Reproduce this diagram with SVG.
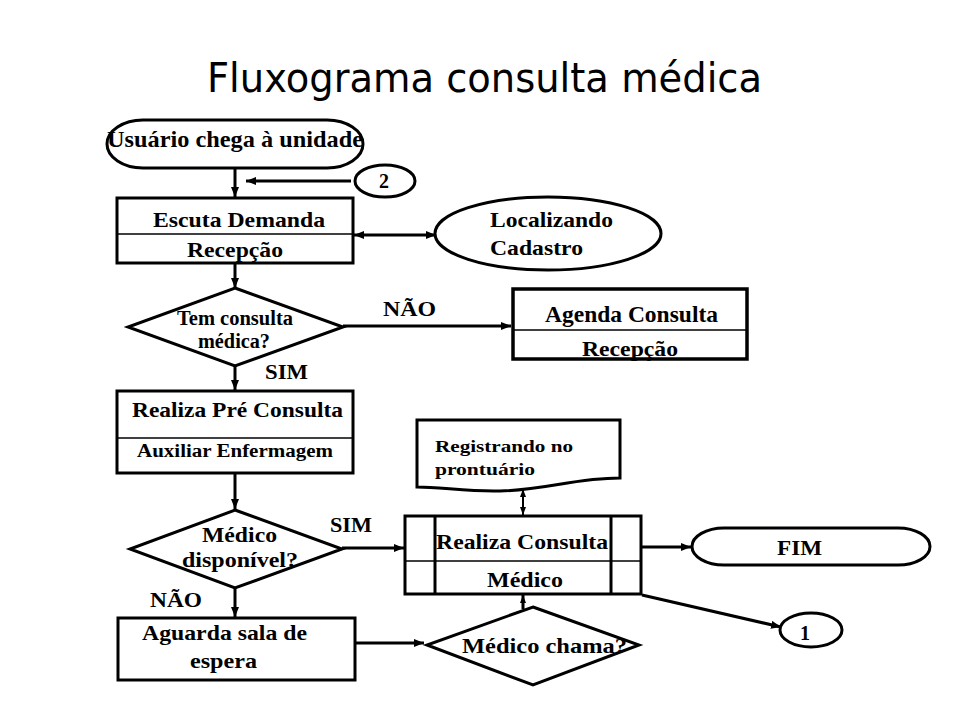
<svg xmlns="http://www.w3.org/2000/svg" width="960" height="720" viewBox="0 0 960 720">
<defs>
<style>
.s{fill:#fff;stroke:#000;stroke-width:3}
.d{stroke:#000;stroke-width:1.5;fill:none}
.c{stroke:#000;stroke-width:3;fill:none}
.c2{stroke:#000;stroke-width:2;fill:none}
.t{font-family:"Liberation Serif","Times New Roman",serif;font-weight:bold;fill:#000}
.ti{font-family:"Comic Sans MS","DejaVu Sans",sans-serif;fill:#000}
</style>
<marker id="ah" viewBox="0 0 10 8" refX="10" refY="4" markerWidth="10" markerHeight="8" markerUnits="userSpaceOnUse" orient="auto-start-reverse">
<path d="M0,0 L10,4 L0,8 Z" fill="#000"/>
</marker>
<marker id="ahs" viewBox="0 0 8 6" refX="8" refY="3" markerWidth="8" markerHeight="6" markerUnits="userSpaceOnUse" orient="auto-start-reverse">
<path d="M0,0 L8,3 L0,6 Z" fill="#000"/>
</marker>
</defs>
<rect width="960" height="720" fill="#fff"/>
<text class="ti" x="207" y="92" font-size="41" textLength="555" lengthAdjust="spacingAndGlyphs">Fluxograma consulta médica</text>

<g id="connectors">
<line class="c" x1="235" y1="168" x2="235" y2="197" marker-end="url(#ah)"/>
<line class="c" x1="351" y1="181" x2="246" y2="181" marker-end="url(#ah)"/>
<line class="c" x1="354" y1="235" x2="436" y2="235" marker-start="url(#ah)" marker-end="url(#ah)"/>
<line class="c" x1="235" y1="263" x2="235" y2="288" marker-end="url(#ah)"/>
<line class="c" x1="343" y1="326" x2="511" y2="326" marker-end="url(#ah)"/>
<line class="c" x1="235" y1="366" x2="235" y2="390" marker-end="url(#ah)"/>
<line class="c" x1="235" y1="473" x2="235" y2="509" marker-end="url(#ah)"/>
<line class="c" x1="342" y1="548" x2="404" y2="548" marker-end="url(#ah)"/>
<line class="c" x1="235" y1="588" x2="235" y2="617" marker-end="url(#ah)"/>
<line class="c" x1="355" y1="643" x2="424" y2="643" marker-end="url(#ah)"/>
<line class="c" x1="523" y1="609" x2="523" y2="595" marker-end="url(#ahs)"/>
<line class="c2" x1="523" y1="489" x2="523" y2="515" marker-start="url(#ahs)" marker-end="url(#ahs)"/>
<line class="c" x1="641" y1="547" x2="691" y2="547" marker-end="url(#ah)"/>
<line class="c" x1="642" y1="595" x2="781" y2="627" marker-end="url(#ah)"/>
</g>

<g id="inicio">
<rect class="s" x="107" y="120" width="256" height="48" rx="36" ry="24"/>
<text class="t" x="107" y="147" font-size="24" textLength="256" lengthAdjust="spacingAndGlyphs">Usuário chega à unidade</text>
</g>

<g id="conector2">
<ellipse class="s" cx="385" cy="181" rx="30" ry="16"/>
<text class="t" x="379" y="188" font-size="20">2</text>
</g>

<g id="escuta">
<rect class="s" x="117" y="198" width="236" height="65"/>
<line class="d" x1="117" y1="234" x2="353" y2="234"/>
<text class="t" x="153" y="227" font-size="22" textLength="172" lengthAdjust="spacingAndGlyphs">Escuta Demanda</text>
<text class="t" x="187" y="257" font-size="22" textLength="96" lengthAdjust="spacingAndGlyphs">Recepção</text>
</g>

<g id="localizando">
<ellipse class="s" cx="548" cy="233.5" rx="113" ry="36.5"/>
<text class="t" x="490" y="227" font-size="22" textLength="123" lengthAdjust="spacingAndGlyphs">Localizando</text>
<text class="t" x="490" y="255" font-size="22" textLength="93" lengthAdjust="spacingAndGlyphs">Cadastro</text>
</g>

<g id="tem-consulta">
<polygon class="s" points="235,288 343,327 235,366 128,327"/>
<text class="t" x="177" y="325" font-size="20" textLength="116" lengthAdjust="spacingAndGlyphs">Tem consulta</text>
<text class="t" x="198" y="348" font-size="20" textLength="72" lengthAdjust="spacingAndGlyphs">médica?</text>
<text class="t" x="383" y="316" font-size="22" textLength="53" lengthAdjust="spacingAndGlyphs">NÃO</text>
<text class="t" x="265" y="379" font-size="22" textLength="43" lengthAdjust="spacingAndGlyphs">SIM</text>
</g>

<g id="agenda">
<rect class="s" x="513" y="289" width="234" height="70" style="stroke-width:3.5"/>
<line class="d" x1="513" y1="330" x2="747" y2="330"/>
<text class="t" x="545" y="322" font-size="23" textLength="173" lengthAdjust="spacingAndGlyphs">Agenda Consulta</text>
<text class="t" x="582" y="356" font-size="22" textLength="96" lengthAdjust="spacingAndGlyphs">Recepção</text>
</g>

<g id="pre-consulta">
<rect class="s" x="117" y="391" width="236" height="82"/>
<line class="d" x1="117" y1="438" x2="353" y2="438"/>
<text class="t" x="132" y="417" font-size="22" textLength="211" lengthAdjust="spacingAndGlyphs">Realiza Pré Consulta</text>
<text class="t" x="137" y="457" font-size="18" textLength="196" lengthAdjust="spacingAndGlyphs">Auxiliar Enfermagem</text>
</g>

<g id="medico-disponivel">
<polygon class="s" points="235,510 342,549 235,588 130,549"/>
<text class="t" x="202" y="542" font-size="21" textLength="75" lengthAdjust="spacingAndGlyphs">Médico</text>
<text class="t" x="182" y="567" font-size="21" textLength="116" lengthAdjust="spacingAndGlyphs">disponível?</text>
<text class="t" x="330" y="532" font-size="22" textLength="42" lengthAdjust="spacingAndGlyphs">SIM</text>
<text class="t" x="150" y="607" font-size="22" textLength="52" lengthAdjust="spacingAndGlyphs">NÃO</text>
</g>

<g id="aguarda">
<rect class="s" x="118" y="618" width="237" height="62"/>
<text class="t" x="142" y="640" font-size="21" textLength="165" lengthAdjust="spacingAndGlyphs">Aguarda sala de</text>
<text class="t" x="190" y="668" font-size="21" textLength="67" lengthAdjust="spacingAndGlyphs">espera</text>
</g>

<g id="medico-chama">
<polygon class="s" points="533,607 639,645 533,685 427,645"/>
<text class="t" x="462" y="653" font-size="21" textLength="165" lengthAdjust="spacingAndGlyphs">Médico chama?</text>
</g>

<g id="registrando">
<path class="s" d="M417,420 H620 V478 C575,478 545,490 500,491 C470,492 440,487 417,487 Z"/>
<text class="t" x="435" y="452" font-size="17" textLength="138" lengthAdjust="spacingAndGlyphs">Registrando no</text>
<text class="t" x="435" y="475" font-size="17" textLength="100" lengthAdjust="spacingAndGlyphs">prontuário</text>
</g>

<g id="realiza-consulta">
<rect class="s" x="405" y="516" width="236" height="78"/>
<line class="c" x1="435" y1="516" x2="435" y2="594"/>
<line class="c" x1="611" y1="516" x2="611" y2="594"/>
<line class="d" x1="405" y1="561" x2="641" y2="561"/>
<text class="t" x="436" y="549" font-size="22" textLength="172" lengthAdjust="spacingAndGlyphs">Realiza Consulta</text>
<text class="t" x="487" y="587" font-size="22" textLength="76" lengthAdjust="spacingAndGlyphs">Médico</text>
</g>

<g id="fim">
<rect class="s" x="692" y="528" width="238" height="37" rx="32" ry="18.5"/>
<text class="t" x="777" y="555" font-size="21" textLength="45" lengthAdjust="spacingAndGlyphs">FIM</text>
</g>

<g id="conector1">
<ellipse class="s" cx="811" cy="630" rx="31" ry="17"/>
<text class="t" x="800" y="640" font-size="20">1</text>
</g>
</svg>
